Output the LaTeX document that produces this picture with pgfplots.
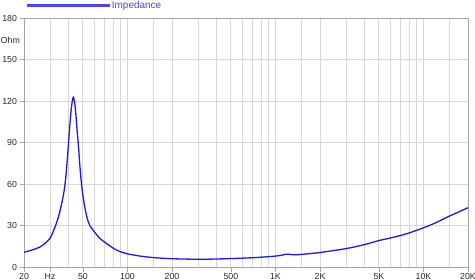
\documentclass[border=0pt]{standalone}
\usepackage{fontspec}
\setmainfont{Liberation Sans}
\usepackage{pgfplots}
\pgfplotsset{compat=1.18}
\definecolor{impblue}{RGB}{25,25,235}
\definecolor{legtext}{RGB}{70,70,255}
\definecolor{gridc}{RGB}{215,215,215}
\definecolor{axisc}{RGB}{165,165,165}
\begin{document}
\begin{tikzpicture}
\useasboundingbox (0,0) rectangle (475bp,280bp);
\begin{axis}[
  at={(24bp,12.7bp)}, anchor=south west,
  scale only axis, width=444bp, height=249.3bp,
  xmode=log, xmin=20, xmax=20000, ymin=0, ymax=180,
  log basis x=10,
  xtick={20,30,50,100,200,500,1000,2000,5000,10000,20000},
  xticklabels={20,Hz,50,100,200,500,1K,2K,5K,10K,20K},
  minor xtick={40,60,70,80,90,150,300,400,600,700,800,900,1500,3000,4000,6000,7000,8000,9000,15000},
  ytick={0,30,60,90,120,150,180},
  xmajorgrids, xminorgrids, ymajorgrids,
  grid style={gridc, line width=0.9bp},
  minor grid style={gridc, line width=0.9bp},
  axis line style={axisc, line width=0.9bp},
  tick style={axisc, line width=0.8bp},
  major tick length=4.5bp, minor tick length=0pt,
  tick align=outside, xtick pos=bottom, ytick pos=left,
  /pgf/number format/assume math mode=true,
  ticklabel style={font=\fontsize{8.8}{9}\selectfont, text=black!85},
  xticklabel style={inner sep=0pt, yshift=-1.2bp},
  yticklabel style={xshift=1bp},
  ylabel={Ohm},
  every axis y label/.style={at={(rel axis cs:0,0.912)}, anchor=east, xshift=-4bp, inner sep=0pt, font=\fontsize{8.8}{9}\selectfont, text=black!85},
  legend style={at={(rel axis cs:0.007,1.05)}, anchor=west, draw=none, fill=none, inner sep=0pt, outer sep=0pt,
    font=\fontsize{10}{11}\selectfont, text=legtext, nodes={inner sep=1.5bp}},
  legend image code/.code={\pgfsetfillcolor{legtext}\pgfsetstrokecolor{legtext}\fill[fill=legtext] (0bp,-0.5bp) rectangle (82bp,0.5bp);},
  clip=true,
]
\addplot[color=impblue, line width=1.3bp, smooth, tension=0.5] coordinates {
(20,10.8) (22,12.1) (24,13.4) (25.7,14.7) (27.7,17.2) (30,21) (31.4,25.5) (32.9,31)
(34.5,38) (36.1,47) (37.3,55) (38.4,66) (39.7,85) (40.6,100) (41.6,113) (42.4,120)
(43.1,122.8) (43.8,120) (44.6,113) (45.6,100) (46.7,87) (47.8,72) (49.3,57)
(50.9,46.5) (52.5,39) (54.1,33.5) (55.8,30) (60.4,25) (65.2,20.8) (70.5,18)
(77.4,14.9) (82.4,13) (90,11.2) (99.3,9.8) (120,8.2) (150,7) (200,6.2) (300,5.8)
(400,6) (500,6.3) (700,6.9) (900,7.7) (1000,8.1) (1100,8.7) (1170,9.4) (1250,9.3)
(1350,9.0) (1500,9.3) (2000,10.7) (3000,13.5) (4000,16.4) (5000,19.3) (6000,21.2)
(7000,23) (8000,24.8) (10000,28.5) (12000,32) (15000,37) (20000,43)
};
\addlegendentry{Impedance}
\end{axis}
\end{tikzpicture}
\end{document}
